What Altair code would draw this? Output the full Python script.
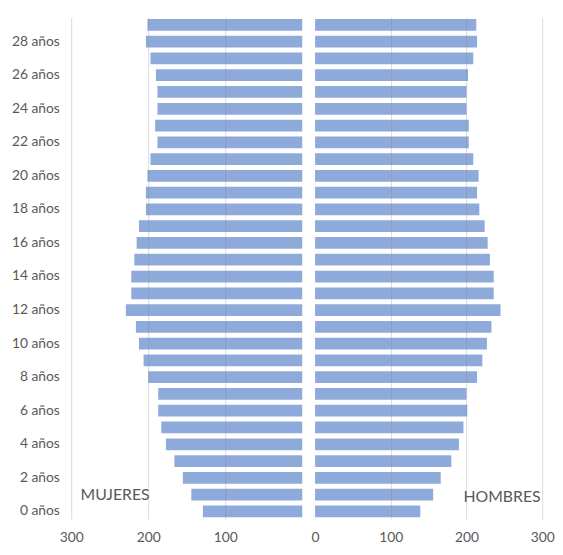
import altair as alt
import pandas as pd

edades = ["0 años", "1 años", "2 años", "3 años", "4 años", "5 años", "6 años",
          "7 años", "8 años", "9 años", "10 años", "11 años", "12 años", "13 años",
          "14 años", "15 años", "16 años", "17 años", "18 años", "19 años",
          "20 años", "21 años", "22 años", "23 años", "24 años", "25 años",
          "26 años", "27 años", "28 años", "29 años"]
mujeres = [129, 144, 155, 166, 177, 183, 187, 187, 200, 206, 212, 216, 229, 222, 222,
           218, 215, 212, 203, 203, 201, 197, 188, 191, 188, 188, 190, 197, 203, 201]
hombres = [139, 156, 166, 180, 190, 196, 201, 200, 214, 221, 227, 233, 245, 236, 236,
           231, 228, 224, 217, 214, 216, 209, 203, 203, 200, 200, 202, 209, 214, 213]

etiquetas = ["MUJERES", "HOMBRES"]
etiqueta_edad = ["1 años", "1 años"]
etiqueta_valor = [243, 247]

df = pd.DataFrame({"edad": edades, "mujeres": mujeres, "hombres": hombres})
df_m = pd.DataFrame({"edad": [etiqueta_edad[0]], "v": [etiqueta_valor[0]], "t": [etiquetas[0]]})
df_h = pd.DataFrame({"edad": [etiqueta_edad[1]], "v": [etiqueta_valor[1]], "t": [etiquetas[1]]})

orden = list(reversed(edades))
FONT = "Lato"
GREY = "#595959"
BAR = "#8eaadb"
H = 508

yscale = alt.Scale(paddingInner=0.3, paddingOuter=0.1)

y_left = alt.Y("edad:N", sort=orden, scale=yscale, title=None,
               axis=alt.Axis(labelExpr="parseInt(datum.value) % 2 === 0 ? datum.value : ''",
                             domain=False, ticks=False, labelPadding=12,
                             labelFontSize=14, labelColor=GREY, labelFont=FONT,
                             minExtent=64, maxExtent=64))
y_right = alt.Y("edad:N", sort=orden, scale=yscale, title=None, axis=None)

grid_op = {"condition": {"test": "datum.value === 0", "value": 0}, "value": 0.3}

xaxis_left = alt.Axis(values=[100, 200, 300], grid=True, gridColor="#808080",
                      gridOpacity=0.3, domain=False, ticks=False, labelPadding=12,
                      labelFontSize=14, labelColor=GREY, labelFont=FONT, title=None,
                      labelFlush=False, zindex=1)
xaxis_right = alt.Axis(values=[0, 100, 200, 300], grid=True, gridColor="#808080",
                       gridOpacity=grid_op, domain=False, ticks=False, labelPadding=12,
                       labelFontSize=14, labelColor=GREY, labelFont=FONT, title=None,
                       labelFlush=False, zindex=1)

left_bars = alt.Chart(df).mark_bar(color=BAR).encode(
    x=alt.X("mujeres:Q", scale=alt.Scale(domain=[0, 300], reverse=True, nice=False),
            axis=xaxis_left),
    y=y_left,
)
left_txt = alt.Chart(df_m).mark_text(font=FONT, fontSize=16, color=GREY, baseline="middle").encode(
    x=alt.X("v:Q"), y=alt.Y("edad:N", sort=orden), text="t:N")
left = alt.layer(left_bars, left_txt).properties(width=234, height=H)

right_bars = alt.Chart(df).mark_bar(color=BAR).encode(
    x=alt.X("hombres:Q", scale=alt.Scale(domain=[0, 300], nice=False), axis=xaxis_right),
    y=y_right,
)
right_txt = alt.Chart(df_h).mark_text(font=FONT, fontSize=16, color=GREY, baseline="middle", dy=3).encode(
    x=alt.X("v:Q"), y=alt.Y("edad:N", sort=orden), text="t:N")
right = alt.layer(right_bars, right_txt).properties(width=230, height=H)

chart = alt.hconcat(left, right, spacing=8).properties(
    padding={"left": 0, "top": 6, "right": 0, "bottom": 0}
).configure_view(stroke=None)

chart.save("out.html", embed_options={"renderer": "svg", "actions": False})
